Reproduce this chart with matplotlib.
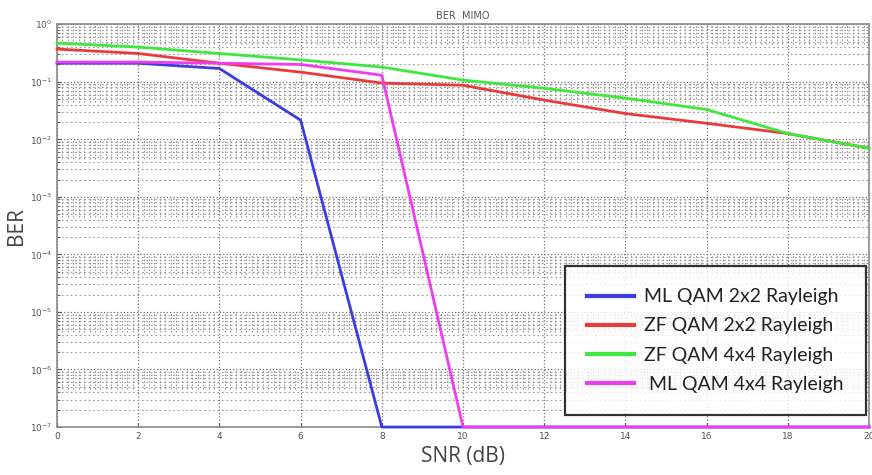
import numpy as np
import matplotlib
matplotlib.use("Agg")
import matplotlib.pyplot as plt
from matplotlib.ticker import FixedLocator, LogLocator, NullFormatter

# SNR points (dB) and BER values
snr = [0, 2, 4, 6, 8, 10, 12, 14, 16, 18, 20]
ber_ml_2x2 = [0.21, 0.21, 0.17, 0.0215, 1e-7, 1e-7, 1e-7, 1e-7, 1e-7, 1e-7, 1e-7]
ber_zf_2x2 = [0.37, 0.31, 0.21, 0.147, 0.095, 0.087, 0.048, 0.028, 0.019, 0.0126, 0.007]
ber_zf_4x4 = [0.47, 0.40, 0.31, 0.24, 0.18, 0.107, 0.077, 0.052, 0.033, 0.0126, 0.007]
ber_ml_4x4 = [0.22, 0.22, 0.21, 0.20, 0.13, 1e-7, 1e-7, 1e-7, 1e-7, 1e-7, 1e-7]

labels = ["ML QAM 2x2 Rayleigh", "ZF QAM 2x2 Rayleigh",
          "ZF QAM 4x4 Rayleigh", " ML QAM 4x4 Rayleigh"]
colors = ["#3c3ce0", "#e83c3c", "#3ee83e", "#f03cf0"]

GRID_COLOR = "#9a9a9a"
TICK_COLOR = "#555555"

fig = plt.figure(figsize=(8.72, 4.75), dpi=100)
ax = fig.add_axes([0.0654, 0.101, 0.9312, 0.848])

series = [ber_ml_2x2, ber_zf_2x2, ber_zf_4x4, ber_ml_4x4]
for vals, col, lab in zip(series, colors, labels):
    ax.plot(snr, vals, color=col, lw=2.0, label=lab, clip_on=False, zorder=3)

ax.set_yscale("log")
ax.set_xlim(0, 20)
ax.set_ylim(1e-7, 1)

ax.xaxis.set_major_locator(FixedLocator(np.arange(0, 21, 2)))
ax.yaxis.set_major_locator(LogLocator(base=10, numticks=10))
ax.yaxis.set_minor_locator(LogLocator(base=10, subs=np.arange(2, 10), numticks=20))
ax.yaxis.set_minor_formatter(NullFormatter())

# major grid
ax.grid(True, which="major", axis="both", color="#707070", ls=":", lw=0.9)
# horizontal minor grid
ax.grid(True, which="minor", axis="y", color=GRID_COLOR, ls=(0, (1.5, 2.5)), lw=0.8)

# vertical minor grid, visible in the upper part of each decade (MATLAB look)
xminor = [v for v in np.arange(0, 20.01, 2 / 15) if abs(v / 2 - round(v / 2)) > 1e-6]
for k in range(0, 7):
    top = 10.0 ** (-k)
    ax.vlines(xminor, top * 0.45, top, colors=GRID_COLOR, linestyles=(0, (1.5, 1.5)),
              lw=0.8, zorder=0.5)

for s in ax.spines.values():
    s.set_color("#8a8a8a")
    s.set_linewidth(1.2)
    s.set_zorder(2)

ax.tick_params(axis="both", which="major", labelsize=6.5, colors=TICK_COLOR,
               length=3, direction="in")
ax.tick_params(axis="y", which="minor", length=2, direction="in", colors=TICK_COLOR)

ax.set_title("BER  MIMO", fontsize=7, color="#555555", pad=4)
ax.set_xlabel("SNR (dB)", fontsize=15, color="#444444", labelpad=4,
              family=["Open Sans", "DejaVu Sans"])
ax.set_ylabel("BER", fontsize=15, color="#444444", labelpad=2,
              family=["Open Sans", "DejaVu Sans"])

leg = ax.legend(loc="lower right", bbox_to_anchor=(0.9965, 0.03),
                prop={"family": ["Lato", "DejaVu Sans"], "size": 14},
                frameon=True, fancybox=False, handlelength=2.4,
                handletextpad=0.55, labelspacing=0.62, borderpad=1.15,
                borderaxespad=0)
leg.get_frame().set_edgecolor("black")
leg.get_frame().set_linewidth(1.6)
leg.set_zorder(5)
for line in leg.get_lines():
    line.set_linewidth(3.0)
for t in leg.get_texts():
    t.set_color("#222222")

fig.savefig("out.png", dpi=100)
